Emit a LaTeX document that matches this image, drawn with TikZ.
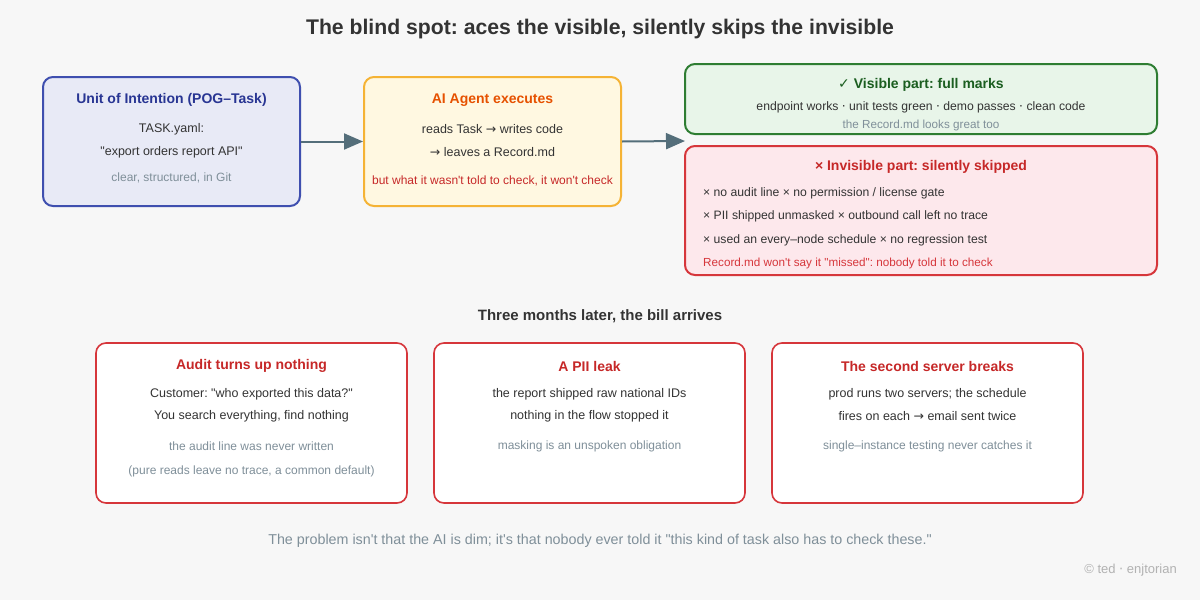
\documentclass[tikz,border=0pt]{standalone}
\usepackage{fontspec}
\setmainfont{Liberation Sans}[Ligatures=TeXOff]
\newfontfamily\symfont{DejaVu Sans}
\usepackage{xcolor}
\usetikzlibrary{arrows.meta, positioning}
\frenchspacing

\definecolor{bgcol}{HTML}{F7F7F7}
\definecolor{ink}{HTML}{333333}
\definecolor{muted}{HTML}{7F8F99}
\definecolor{flowcol}{HTML}{546E7A}
\definecolor{blueline}{HTML}{3F4FAF}
\definecolor{bluefill}{HTML}{E8EAF6}
\definecolor{bluetext}{HTML}{283593}
\definecolor{orangeline}{HTML}{F5B335}
\definecolor{orangefill}{HTML}{FFF8E1}
\definecolor{orangetext}{HTML}{E65100}
\definecolor{greenline}{HTML}{2E7D32}
\definecolor{greenfill}{HTML}{E8F5E9}
\definecolor{greentext}{HTML}{1B5E20}
\definecolor{redline}{HTML}{D6363B}
\definecolor{redfill}{HTML}{FDE8EC}
\definecolor{redtext}{HTML}{C62828}

\begin{document}
\begin{tikzpicture}[
    x=1pt, y=-1pt,
    card/.style={rectangle, rounded corners=10pt, line width=2pt, inner sep=0pt},
    billcard/.style={card, line width=1.6pt, draw=redline, fill=white,
                     minimum width=311pt, minimum height=160pt},
    hd/.style={inner sep=0pt, font=\fontsize{14}{16}\selectfont\bfseries},
    txt/.style={inner sep=0pt, text=ink, font=\fontsize{12.5}{15}\selectfont},
    note/.style={inner sep=0pt, text=muted, font=\fontsize{12}{14}\selectfont},
    warn/.style={inner sep=0pt, text=redline, font=\fontsize{12}{14}\selectfont},
    flow/.style={-{Triangle[length=19pt, width=16pt]}, line width=2pt, draw=flowcol},
]

\fill[bgcol] (0,0) rectangle (1200,600);

%% Title
\node[inner sep=0pt, text=ink, font=\fontsize{21.2}{25}\selectfont\bfseries] (title) at (600,29)
    {The blind spot: aces the visible, silently skips the invisible};

%% Top row
\node[card, draw=blueline, fill=bluefill, minimum width=257pt, minimum height=129pt] (intent) at (171.5,141.5) {};
\node[hd, text=bluetext] (intenthd) at (171.5,100) {Unit of Intention (POG–Task)};
\node[txt] (intent1) at (171.5,129) {TASK.yaml:};
\node[txt] (intent2) at (171.5,152) {"export orders report API"};
\node[note] (intent3) at (171.5,178) {clear, structured, in Git};

\node[card, draw=orangeline, fill=orangefill, minimum width=257pt, minimum height=129pt] (agent) at (492.5,141.5) {};
\node[hd, text=orangetext] (agenthd) at (492.5,100) {AI Agent executes};
\node[txt] (agent1) at (492.5,129) {reads Task {\symfont →} writes code};
\node[txt] (agent2) at (492.5,152) {{\symfont →} leaves a Record.md};
\node[warn, text=redtext] (agent3) at (492.5,181) {but what it wasn't told to check, it won't check};

\node[card, draw=greenline, fill=greenfill, minimum width=472pt, minimum height=70pt] (visible) at (921,99) {};
\node[hd, text=greentext] (visiblehd) at (921,85) {{\symfont ✓} Visible part: full marks};
\node[txt, font=\fontsize{12.2}{14}\selectfont] (visible1) at (921,107)
    {endpoint works {\symfont ·} unit tests green {\symfont ·} demo passes {\symfont ·} clean code};
\node[note, font=\fontsize{11.7}{13}\selectfont] (visible2) at (921,125) {the Record.md looks great too};

\node[card, draw=redline, fill=redfill, minimum width=472pt, minimum height=129pt] (hidden) at (921,210.5) {};
\node[hd, text=redtext] (hiddenhd) at (921,167) {× Invisible part: silently skipped};
\node[txt, anchor=west, font=\fontsize{12.2}{14}\selectfont] (hidden1) at (703,193) {× no audit line × no permission / license gate};
\node[txt, anchor=west, font=\fontsize{12.2}{14}\selectfont] (hidden2) at (703,216) {× PII shipped unmasked × outbound call left no trace};
\node[txt, anchor=west, font=\fontsize{12.2}{14}\selectfont] (hidden3) at (703,240) {× used an every–node schedule × no regression test};
\node[warn, anchor=west, font=\fontsize{11.7}{13}\selectfont] (hidden4) at (703,263) {Record.md won't say it "missed": nobody told it to check};

\coordinate (split) at (685,141);
\draw[flow] (intent.east) -- (agent.west);
\draw[flow] (agent.east) -- (split);

%% Bottom row
\node[inner sep=0pt, text=ink, font=\fontsize{15}{18}\selectfont\bfseries] (later) at (600,316)
    {Three months later, the bill arrives};

\node[billcard] (audit) at (251.5,423) {};
\node[hd, text=redtext] (audithd) at (251.5,366) {Audit turns up nothing};
\node[txt] (audit1) at (251.5,394) {Customer: "who exported this data?"};
\node[txt] (audit2) at (251.5,416) {You search everything, find nothing};
\node[note] (audit3) at (251.5,446) {the audit line was never written};
\node[note] (audit4) at (251.5,471) {(pure reads leave no trace, a common default)};

\node[billcard] (leak) at (589.5,423) {};
\node[hd, text=redtext] (leakhd) at (589.5,366) {A PII leak};
\node[txt] (leak1) at (589.5,394) {the report shipped raw national IDs};
\node[txt] (leak2) at (589.5,416) {nothing in the flow stopped it};
\node[note] (leak3) at (589.5,446) {masking is an unspoken obligation};

\node[billcard] (server) at (927.5,423) {};
\node[hd, text=redtext] (serverhd) at (927.5,366) {The second server breaks};
\node[txt] (server1) at (927.5,394) {prod runs two servers; the schedule};
\node[txt] (server2) at (927.5,416) {fires on each {\symfont →} email sent twice};
\node[note] (server3) at (927.5,446) {single–instance testing never catches it};

%% Footer
\node[inner sep=0pt, text=muted, font=\fontsize{14.3}{17}\selectfont] (moral) at (600,541)
    {The problem isn't that the AI is dim; it's that nobody ever told it "this kind of task also has to check these."};
\node[inner sep=0pt, anchor=east, text=black!30, font=\fontsize{13}{15}\selectfont] (credit) at (1177,570)
    {© ted {\symfont ·} enjtorian};

\end{tikzpicture}
\end{document}
